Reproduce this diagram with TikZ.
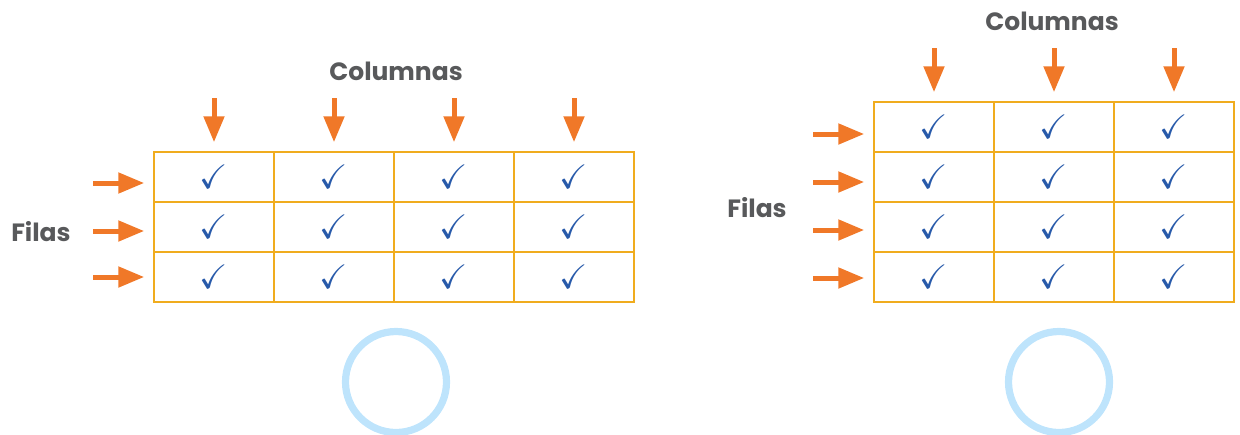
\documentclass[tikz,border=0pt]{standalone}
\usepackage{amssymb}
\usepackage{fontspec}
\setmainfont{Poppins}
\usetikzlibrary{arrows.meta}

\definecolor{rahmen}{RGB}{240,172,30}
\definecolor{haken}{RGB}{40,90,170}
\definecolor{pfeilfarbe}{RGB}{240,120,40}
\definecolor{kreisfarbe}{RGB}{190,228,252}
\definecolor{schrift}{RGB}{88,89,91}

\tikzset{
  zelle/.style={draw=rahmen, line width=0.75pt, minimum width=60pt,
    minimum height=25pt, inner sep=0pt, text=haken,
    font=\fontsize{17}{20}\selectfont},
  pfeil/.style={draw=pfeilfarbe, line width=2.5pt,
    -{Triangle[length=13pt,width=10pt]}},
  titel/.style={text=schrift, font=\fontsize{12.5}{15}\selectfont\bfseries},
  kreis/.style={draw=kreisfarbe, line width=3.6pt}
}

\begin{document}
\begin{tikzpicture}[
        x=0.5pt,
        y=-0.5pt]

\useasboundingbox (0,0) rectangle (1240,434);

%Tabelle Links (3 Zeilen, 4 Spalten)
\node[zelle] (a11) at (214,177) {$\checkmark$};
\node[zelle] (a12) at (334,177) {$\checkmark$};
\node[zelle] (a13) at (454,177) {$\checkmark$};
\node[zelle] (a14) at (574,177) {$\checkmark$};

\node[zelle] (a21) at (214,227) {$\checkmark$};
\node[zelle] (a22) at (334,227) {$\checkmark$};
\node[zelle] (a23) at (454,227) {$\checkmark$};
\node[zelle] (a24) at (574,227) {$\checkmark$};

\node[zelle] (a31) at (214,277) {$\checkmark$};
\node[zelle] (a32) at (334,277) {$\checkmark$};
\node[zelle] (a33) at (454,277) {$\checkmark$};
\node[zelle] (a34) at (574,277) {$\checkmark$};

%Tabelle Rechts (4 Zeilen, 3 Spalten)
\node[zelle] (b11) at (934,127) {$\checkmark$};
\node[zelle] (b12) at (1054,127) {$\checkmark$};
\node[zelle] (b13) at (1174,127) {$\checkmark$};

\node[zelle] (b21) at (934,177) {$\checkmark$};
\node[zelle] (b22) at (1054,177) {$\checkmark$};
\node[zelle] (b23) at (1174,177) {$\checkmark$};

\node[zelle] (b31) at (934,227) {$\checkmark$};
\node[zelle] (b32) at (1054,227) {$\checkmark$};
\node[zelle] (b33) at (1174,227) {$\checkmark$};

\node[zelle] (b41) at (934,277) {$\checkmark$};
\node[zelle] (b42) at (1054,277) {$\checkmark$};
\node[zelle] (b43) at (1174,277) {$\checkmark$};

%Beschriftung
\node[titel] (spaltenA) at (396,71) {Columnas};
\node[titel] (zeilenA) at (41,232) {Filas};
\node[titel] (spaltenB) at (1052,21) {Columnas};
\node[titel] (zeilenB) at (757,208) {Filas};

%Startpunkte Der Pfeile
\coordinate (pa1) at (214,98);
\coordinate (pa2) at (334,98);
\coordinate (pa3) at (454,98);
\coordinate (pa4) at (574,98);
\coordinate (za1) at (93,183);
\coordinate (za2) at (93,231);
\coordinate (za3) at (93,277);

\coordinate (pb1) at (934,48);
\coordinate (pb2) at (1054,48);
\coordinate (pb3) at (1174,48);
\coordinate (zb1) at (813,134);
\coordinate (zb2) at (813,182);
\coordinate (zb3) at (813,230);
\coordinate (zb4) at (813,278);

%Pfeile Spalten
\draw[pfeil, shorten >=4.5pt] (pa1) -- (a11.north);
\draw[pfeil, shorten >=4.5pt] (pa2) -- (a12.north);
\draw[pfeil, shorten >=4.5pt] (pa3) -- (a13.north);
\draw[pfeil, shorten >=4.5pt] (pa4) -- (a14.north);

\draw[pfeil, shorten >=4.5pt] (pb1) -- (b11.north);
\draw[pfeil, shorten >=4.5pt] (pb2) -- (b12.north);
\draw[pfeil, shorten >=4.5pt] (pb3) -- (b13.north);

%Pfeile Zeilen
\draw[pfeil, shorten >=4.5pt] (za1) -- (za1 -| a11.west);
\draw[pfeil, shorten >=4.5pt] (za2) -- (za2 -| a21.west);
\draw[pfeil, shorten >=4.5pt] (za3) -- (za3 -| a31.west);

\draw[pfeil, shorten >=4.5pt] (zb1) -- (zb1 -| b11.west);
\draw[pfeil, shorten >=4.5pt] (zb2) -- (zb2 -| b21.west);
\draw[pfeil, shorten >=4.5pt] (zb3) -- (zb3 -| b31.west);
\draw[pfeil, shorten >=4.5pt] (zb4) -- (zb4 -| b41.west);

%Kreise Unten
\draw[kreis] (396,382) circle [radius=25.25pt];
\draw[kreis] (1059,382) circle [radius=25.25pt];

\end{tikzpicture}
\end{document}
